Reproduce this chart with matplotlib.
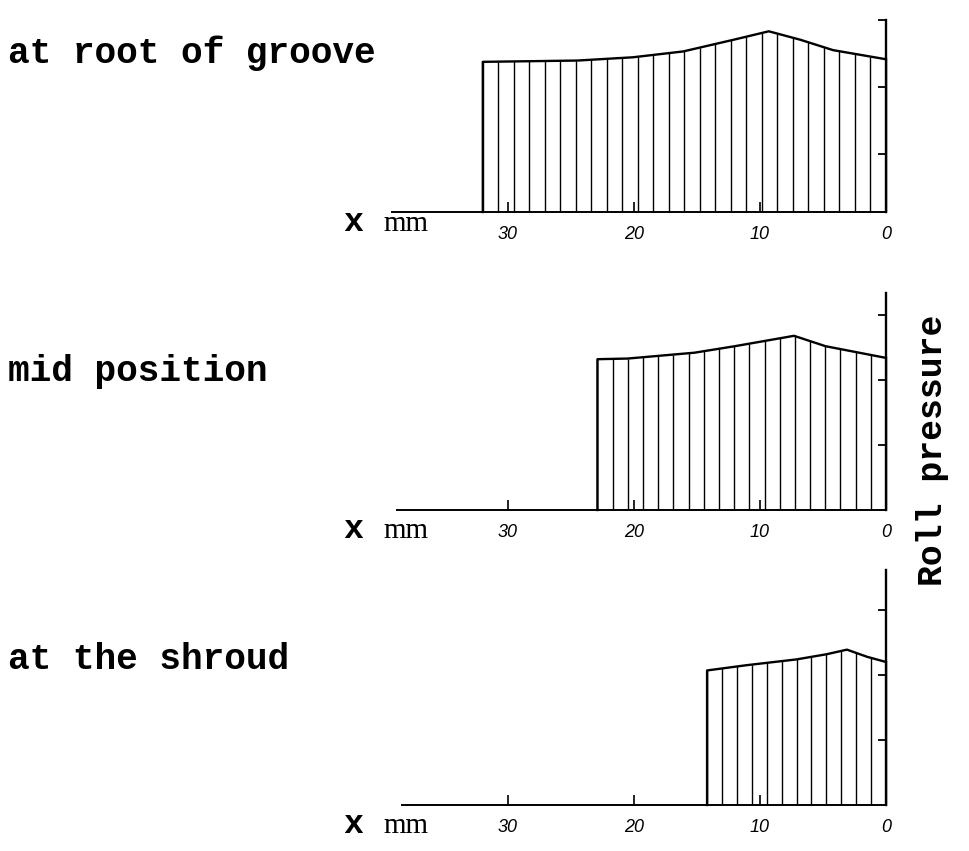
import numpy as np
import matplotlib.pyplot as plt

# distribuicao de pressao no cilindro, x em mm (0 = saida)
x_raiz = [32.0, 24.5, 20.1, 16.1, 12.1, 9.3, 6.8, 4.2, 0.0]
p_raiz = [2.31, 2.33, 2.38, 2.47, 2.65, 2.78, 2.65, 2.49, 2.35]

x_meio = [22.9, 20.5, 15.2, 12.0, 7.3, 4.8, 0.0]
p_meio = [2.32, 2.33, 2.42, 2.52, 2.68, 2.52, 2.34]

x_cinta = [14.2, 11.1, 7.1, 4.7, 3.1, 1.5, 0.0]
p_cinta = [2.07, 2.15, 2.24, 2.32, 2.39, 2.28, 2.20]

titulos = ["at root of groove", "mid position", "at the shroud"]
n_hachuras = [27, 20, 13]
xticks = [30, 20, 10, 0]
yticks_raiz = [0.9, 1.93, 2.95]
yticks = [1, 2, 3]

W, H = 970, 851
fig = plt.figure(figsize=(W/100, H/100), dpi=100)

PX_MM = 12.6
PX_UN = 65
DIREITA = 886

# (esquerda, linha base, topo do eixo, base do titulo, base do "x mm")
layout = [
    (392, 212, 20, 63, 231),
    (397, 510, 293, 381, 538),
    (402, 805, 570, 669, 833),
]

paineis = [(x_raiz, p_raiz, yticks_raiz), (x_meio, p_meio, yticks), (x_cinta, p_cinta, yticks)]

for i, ((xs, ps, yt), (esq, base, topo, ytit, yxmm)) in enumerate(zip(paineis, layout)):
    larg = DIREITA - esq
    alt = base - topo
    ax = fig.add_axes([esq/W, 1 - base/H, larg/W, alt/H])
    ax.set_xlim(larg/PX_MM, 0)
    ax.set_ylim(0, alt/PX_UN)
    ax.set_facecolor("none")

    # hachuras verticais
    xh = np.linspace(xs[0], 0, n_hachuras[i])
    ph = np.interp(xh, xs[::-1], ps[::-1])
    ax.vlines(xh, 0, ph, color="black", lw=1.0, clip_on=False)
    # contorno
    ax.plot([xs[0]] + xs, [0] + ps, color="black", lw=1.7, clip_on=False)

    for s in ["left", "top"]:
        ax.spines[s].set_visible(False)
    ax.spines["bottom"].set_linewidth(1.4)
    ax.spines["right"].set_linewidth(1.7)

    ax.set_xticks(xticks)
    ax.set_xticklabels([str(t) for t in xticks])
    ax.tick_params(axis="x", direction="in", length=7, width=1.2, pad=10, labelsize=13)
    for lb in ax.get_xticklabels():
        lb.set_fontstyle("italic")
        lb.set_family("Liberation Sans")

    ax.yaxis.tick_right()
    ax.set_yticks(yt)
    ax.set_yticklabels([])
    ax.tick_params(axis="y", direction="in", length=6, width=1.3)

    fig.text(8/W, 1 - ytit/H, titulos[i], family="Liberation Mono", weight="bold",
             size=26, va="baseline", ha="left")
    fig.text(343/W, 1 - yxmm/H, "x", family="Liberation Mono", weight="bold",
             size=24, va="baseline", ha="left")
    fig.text(383/W, 1 - yxmm/H, "mm", family="Liberation Serif", size=21,
             va="baseline", ha="left")

fig.text(933/W, 1 - 450/H, "Roll pressure", family="Liberation Mono", weight="bold",
         size=25, rotation=90, ha="center", va="center")

fig.savefig("out.png", dpi=100)
